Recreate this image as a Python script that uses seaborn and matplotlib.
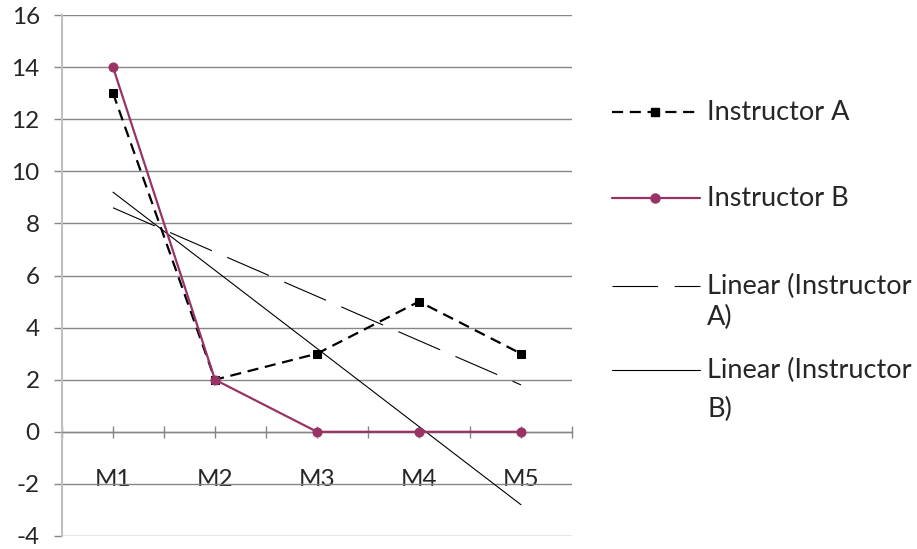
import matplotlib
matplotlib.use("Agg")
import matplotlib.pyplot as plt
from matplotlib.lines import Line2D
import seaborn as sns

# chart values
months = ["M1", "M2", "M3", "M4", "M5"]
instructor_a = [13, 2, 3, 5, 3]
instructor_b = [14, 2, 0, 0, 0]
y_ticks = [-4, -2, 0, 2, 4, 6, 8, 10, 12, 14, 16]

sns.set_style("white")
plt.rcParams["font.family"] = ["Lato", "DejaVu Sans"]

W, H = 917, 549
fig = plt.figure(figsize=(W / 100, H / 100), dpi=100)
ax = fig.add_axes([62 / W, 1 - 536 / H, (572 - 62) / W, (536 - 15) / H])

pos = list(range(len(months)))
purple = "#993366"
grid_c = "#868686"
fs = 17.5
fs_leg = 19.5

# trend lines (least squares, like the spreadsheet trendline)
sns.regplot(x=pos, y=instructor_a, scatter=False, ci=None, ax=ax, truncate=True,
            line_kws=dict(color="black", lw=0.8, dashes=(41, 15), zorder=2))
sns.regplot(x=pos, y=instructor_b, scatter=False, ci=None, ax=ax, truncate=True,
            line_kws=dict(color="black", lw=0.8, zorder=2))

# series
sns.lineplot(x=pos, y=instructor_a, ax=ax, color="black", lw=1.6,
             linestyle=(0, (5, 3)), marker="s", markersize=6,
             markeredgecolor="black", zorder=3)
sns.lineplot(x=pos, y=instructor_b, ax=ax, color=purple, lw=1.6,
             marker="o", markersize=6.5, markeredgecolor=purple, zorder=4)

ax.set_xlim(-0.5, len(months) - 0.5)
ax.set_ylim(y_ticks[0], y_ticks[-1])
ax.set_yticks(y_ticks)
ax.set_yticklabels([str(v) for v in y_ticks])
ax.yaxis.grid(True, color=grid_c, lw=1)
ax.set_axisbelow(True)

# category axis crosses at zero
ax.spines["bottom"].set_position(("data", 0))
ax.spines["bottom"].set_color(grid_c)
ax.spines["bottom"].set_linewidth(1)
ax.spines["top"].set_visible(False)
ax.spines["right"].set_visible(False)
ax.spines["left"].set_color("#BFBFBF")
ax.spines["left"].set_linewidth(1.5)

ax.set_xticks(pos)
ax.set_xticklabels(months)
ax.set_xticks([p - 0.5 for p in pos] + [len(months) - 0.5], minor=True)
ax.tick_params(axis="x", which="both", direction="inout", length=9,
               color=grid_c, width=1, bottom=True)
ax.tick_params(axis="x", which="major", pad=22, labelsize=fs)
ax.tick_params(axis="y", left=True, length=6, color=grid_c, width=1,
               pad=10, labelsize=fs)

# legend, drawn by hand to sit like the original
def fy(y):
    return 1 - y / H

x0, x1, xm, xt = 612 / W, 700 / W, 655 / W, 707 / W
fig.add_artist(Line2D([x0, x1], [fy(112)] * 2, color="black", lw=1.6,
                      linestyle=(0, (5, 3)), transform=fig.transFigure))
fig.add_artist(Line2D([xm], [fy(112)], color="black", marker="s", markersize=6,
                      transform=fig.transFigure))
fig.add_artist(Line2D([x0, x1], [fy(198)] * 2, color=purple, lw=1.6,
                      transform=fig.transFigure))
fig.add_artist(Line2D([xm], [fy(198)], color=purple, marker="o", markersize=6.5,
                      transform=fig.transFigure))
fig.add_artist(Line2D([x0, x1], [fy(286)] * 2, color="black", lw=0.8,
                      dashes=(41, 15), transform=fig.transFigure))
fig.add_artist(Line2D([x0, x1], [fy(370)] * 2, color="black", lw=0.8,
                      transform=fig.transFigure))

labels = [("Instructor A", 112), ("Instructor B", 198),
          ("Linear (Instructor", 286), ("A)", 317),
          ("Linear (Instructor", 370), ("B)", 409)]
for txt, y in labels:
    fig.text(xt, fy(y), txt, fontsize=fs_leg, va="center", ha="left")

fig.savefig("out.png", dpi=100)
